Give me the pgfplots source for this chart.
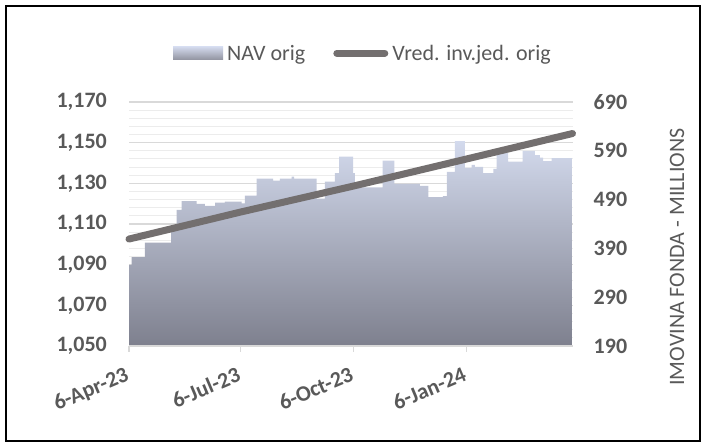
\documentclass[border=0pt]{standalone}
\usepackage{fontspec}
\setmainfont{Carlito}
\usepackage{pgfplots}
\pgfplotsset{compat=1.18}
\definecolor{txtgray}{HTML}{595959}
\definecolor{linegray}{HTML}{736F6F}
\definecolor{gridmajor}{HTML}{D9D9D9}
\definecolor{gridminor}{HTML}{ECECEC}
\definecolor{areatop}{HTML}{D3DAED}
\definecolor{areabot}{HTML}{7E808E}
\begin{document}
\begin{tikzpicture}[x=1bp,y=1bp]
\useasboundingbox (0,0) rectangle (706,447);
\draw[black, line width=1.2bp] (6,6) rectangle (700,441);
\pgfplotsset{
  base/.style={scale only axis, width=443.5bp, height=244bp, at={(129bp,101bp)}, anchor=south west,
    xmin=0, xmax=361, font=\fontsize{22bp}{26bp}\selectfont,
    /pgf/number format/assume math mode=true},
}
% axis 1: grid and left tick labels
\begin{axis}[base, ymin=1050, ymax=1170, ytick={1050,1070,...,1170}, minor y tick num=4,
  ymajorgrids, yminorgrids,
  major grid style={gridmajor, line width=1.2bp},
  minor grid style={gridminor, line width=1bp},
  axis x line=none, axis y line*=left, y axis line style={draw=none}, ytick style={draw=none},
  xtick=\empty,
  yticklabel style={font=\fontsize{22bp}{26bp}\selectfont\bfseries, text=txtgray, anchor=east, inner sep=0pt, xshift=-22bp,
    /pgf/number format/1000 sep={,}}]
\addplot[draw=none] coordinates {(0,1100) (361,1100)};
\end{axis}
% axis 2: fund assets (area), right axis
\begin{axis}[base, ymin=190, ymax=690, ytick={190,290,...,690},
  axis x line=none, axis y line*=right, y axis line style={draw=none}, ytick style={draw=none},
  xtick=\empty,
  yticklabel style={font=\fontsize{22bp}{26bp}\selectfont\bfseries, text=txtgray, anchor=west, inner sep=0pt, xshift=21bp,
    /pgf/number format/1000 sep={,}}]
\addplot[draw=none, top color=areatop, bottom color=areabot, const plot mark left] coordinates {
(0,356) (2.2,372) (13,402) (34.2,432) (38.8,469) (42.9,487) (55.1,481) (61.8,477) (70,484) (78.1,486)
(91.7,482) (94.4,498) (103.9,533) (117.4,529) (122.9,533) (132.4,537) (134.5,533) (152.7,492)
(159.5,527) (167.6,544) (171.1,578) (182.5,544) (183.9,515) (206.4,570) (215.9,522) (236.8,518)
(243.6,495) (255.5,497) (258.7,547) (265.3,610) (273.4,555) (278.8,561) (281.5,557) (288.3,544)
(296.5,553) (299.2,585) (308.6,568) (320.3,590) (330.3,581) (334.4,576) (337.1,569) (343.9,575) (361,575)
} \closedcycle;
\end{axis}
% axis 3: x axis, unit value line, legend
\begin{axis}[base, ymin=1050, ymax=1170, clip=false,
  axis y line=none, axis x line*=bottom, x axis line style={gridmajor, line width=1.5bp, -},
  xtick={0,91,183,275}, xticklabels={6-Apr-23,6-Jul-23,6-Oct-23,6-Jan-24},
  tick align=outside, major tick length=6bp, xtick style={gridmajor, line width=1.2bp},
  xticklabel style={font=\fontsize{22bp}{26bp}\selectfont\bfseries, text=txtgray, rotate=23, anchor=north east, inner sep=0pt, xshift=-10bp, yshift=-11bp},
  legend columns=2,
  legend style={draw=none, fill=none, inner sep=0pt, at={(0.0992,1.1996)}, anchor=west,
    nodes={inner xsep=4bp, inner ysep=0pt, text=txtgray, font=\fontsize{22bp}{26bp}\selectfont},
    /tikz/every even column/.append style={column sep=24bp}}]
\addlegendimage{legend image code/.code={\shade[draw=none, top color=areatop, bottom color=areabot!85!white] (0bp,-6.5bp) rectangle (50bp,6.5bp);}}
\addlegendentry{NAV orig}
\addplot[linegray, line width=7bp, line cap=round,
  legend image code/.code={\draw[linegray, line width=7bp, line cap=round] (3.5bp,0bp) -- (51.5bp,0bp);}]
  coordinates {(0,1102.6) (91,1115.9) (183,1128.7) (275,1142.0) (361,1154.5)};
\addlegendentry{Vred. inv.jed. orig}
\end{axis}
\node[rotate=90, text=txtgray, font=\fontsize{22bp}{26bp}\selectfont, inner sep=0pt] at (677,190) {IMOVINA FONDA - MILLIONS};
\end{tikzpicture}
\end{document}
